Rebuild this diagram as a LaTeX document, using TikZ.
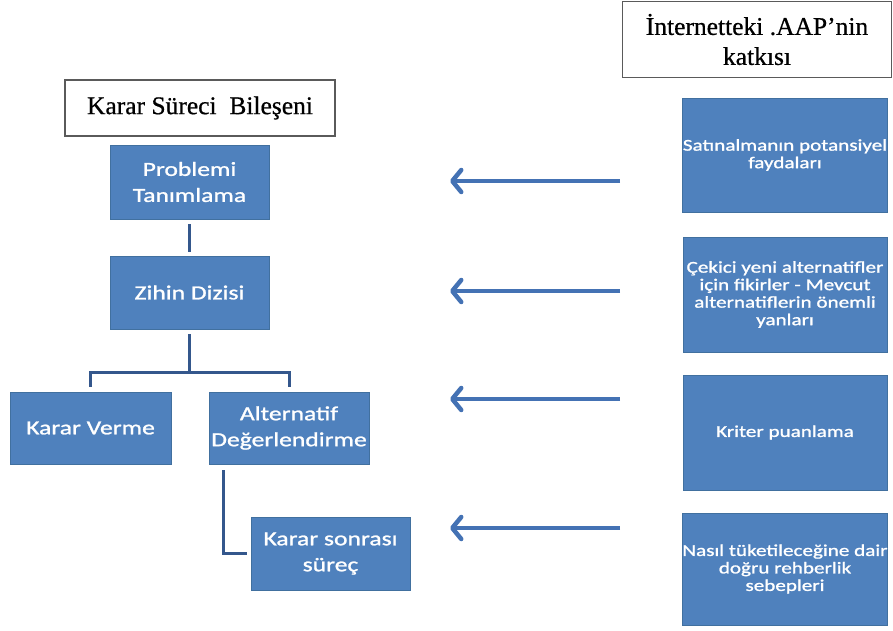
\documentclass[tikz,border=0pt]{standalone}
\usepackage{fontspec}
\setmainfont{Liberation Serif}
\newfontfamily\headfont[FakeBold=0.6]{Liberation Serif}
\newfontfamily\boxfont[FakeStretch=1.28,FakeBold=1.2]{Carlito}
\usetikzlibrary{arrows.meta}

\definecolor{boxblue}{HTML}{4F81BD}
\definecolor{boxedge}{HTML}{41709F}
\definecolor{linkblue}{HTML}{34578C}
\definecolor{arrowblue}{HTML}{4472B4}
\definecolor{frame}{HTML}{5A5A5A}

\tikzset{
  titlebox/.style={draw=frame, line width=1.6pt, fill=white, inner sep=0pt,
    align=center, font=\headfont\fontsize{25.5}{30}\selectfont},
  stagebox/.style={fill=boxblue, draw=boxedge, line width=0.8pt, text=white,
    inner sep=0pt, align=center, font=\boxfont\fontsize{20}{26}\selectfont},
  effectbox/.style={stagebox, font=\boxfont\fontsize{16.5}{17.5}\selectfont},
  link/.style={draw=linkblue, line width=3pt},
  pointer/.style={draw=arrowblue, line width=4.5pt,
    -{Straight Barb[length=9pt,width=22pt,round]}}
}

\begin{document}
\begin{tikzpicture}[x=1pt,y=-1pt]
  \useasboundingbox (0,0) rectangle (893,630);

  % column headings
  \node[titlebox, minimum width=270pt, minimum height=56pt] (head1) at (200,108)
    {Karar Süreci\ \ Bileşeni};
  \node[titlebox, minimum width=269pt, minimum height=76pt] (head2) at (757,39.5)
    {İnternetteki .AAP’nin\\katkısı};

  % decision process stages
  \node[stagebox, minimum width=159pt, minimum height=74pt] (p1) at (189.5,182)
    {Problemi\\Tanımlama};
  \node[stagebox, minimum width=159pt, minimum height=73pt] (p2) at (189.5,292.5)
    {Zihin Dizisi};
  \node[stagebox, minimum width=161pt, minimum height=72pt] (p3) at (90.5,428)
    {Karar Verme};
  \node[stagebox, minimum width=160pt, minimum height=72pt] (p4) at (289,428)
    {Alternatif\\Değerlendirme};
  \node[stagebox, minimum width=159pt, minimum height=73pt] (p5) at (330.5,553.5)
    {Karar sonrası\\süreç};

  % contributions of the internet
  \node[effectbox, minimum width=204pt, minimum height=114pt] (c1) at (785,155)
    {Satınalmanın potansiyel\\faydaları};
  \node[effectbox, minimum width=204pt, minimum height=115pt] (c2) at (785,294.5)
    {Çekici yeni alternatifler\\için fikirler - Mevcut\\alternatiflerin önemli\\yanları};
  \node[effectbox, minimum width=204pt, minimum height=115pt] (c3) at (785,432.5)
    {Kriter puanlama};
  \node[effectbox, minimum width=204pt, minimum height=112pt] (c4) at (785,569)
    {Nasıl tüketileceğine dair\\doğru rehberlik\\sebepleri};

  % tree connectors
  \coordinate (bus) at (0,372);
  \coordinate (spine) at (223,0);
  \draw[link, shorten <=5pt, shorten >=4pt] (p1.south) -- (p2.north);
  \draw[link, shorten <=5pt, shorten >=5pt] (p2.south) -- (p2.south |- bus) -| (p3.north);
  \draw[link, shorten <=5pt, shorten >=5pt] (p2.south) -- (p2.south |- bus) -| (p4.north);
  \draw[link, shorten <=6pt, shorten >=4pt] (p4.south -| spine) |- (p5.west);

  % arrows from the contributions toward the stages
  \coordinate (a1s) at (620,181); \coordinate (a1e) at (450,181);
  \coordinate (a2s) at (620,291); \coordinate (a2e) at (450,291);
  \coordinate (a3s) at (620,399); \coordinate (a3e) at (450,399);
  \coordinate (a4s) at (620,528); \coordinate (a4e) at (450,528);
  \draw[pointer] (a1s) -- (a1e);
  \draw[pointer] (a2s) -- (a2e);
  \draw[pointer] (a3s) -- (a3e);
  \draw[pointer] (a4s) -- (a4e);
\end{tikzpicture}
\end{document}
